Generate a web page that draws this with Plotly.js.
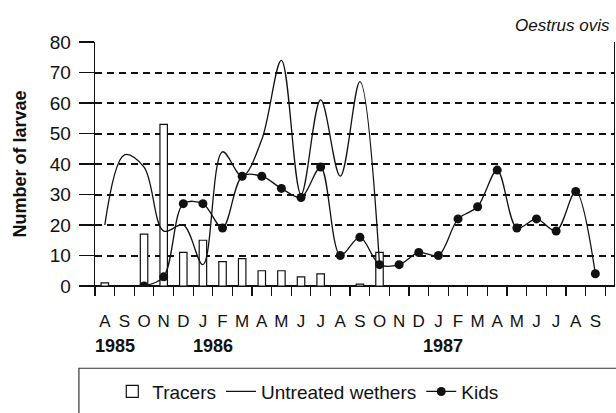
<!DOCTYPE html>
<html>
<head>
<meta charset="utf-8">
<script src="https://cdn.plot.ly/plotly-3.0.1.min.js"></script>
<style>html,body{margin:0;padding:0;background:#fff;}#chart{width:616px;height:413px;}</style>
</head>
<body>
<div id="chart"></div>
<script>
// Months Aug 1985 .. Sep 1987 (index 0..25)
const months = ["A","S","O","N","D","J","F","M","A","M","J","J","A","S","O","N","D","J","F","M","A","M","J","J","A","S"];
const monthIndex = months.map((m, i) => i);
// Month boundaries (tick marks between months)
const monthEdges = months.map((m, i) => i - 0.5).concat([months.length - 0.5]);

// Tracers (bars)
const tracers = [1, null, 17, 53, 11, 15, 8, 9, 5, 5, 3, 4, null, 0.6, 11, null, null, null, null, null, null, null, null, null, null, null];

// Untreated wethers (smooth line, no markers)
const untreated = [20, 43, 39, 18, 20, 7, 44, 36, 48, 74, 30, 61, 36, 67, 7, null, null, null, null, null, null, null, null, null, null, null];

// Kids (line with dots)
const kids = [null, null, 0, 3, 27, 27, 19, 36, 36, 32, 29, 39, 10, 16, 7, 7, 11, 10, 22, 26, 38, 19, 22, 18, 31, 4];

// Year labels
const yearLabels = ["1985", "1986", "1987"];
const yearPos = [0.5, 5.5, 17.25];

const FONT = "Liberation Sans, Arial, Helvetica, sans-serif";

const traces = [
  {
    type: "bar", name: "Tracers", x: monthIndex, y: tracers, width: 0.38,
    marker: {color: "#ffffff", line: {color: "#111", width: 1.2}},
    hoverinfo: "skip"
  },
  {
    type: "scatter", mode: "lines", name: "Untreated wethers", x: monthIndex, y: untreated,
    line: {color: "#111", width: 1.3, shape: "spline", smoothing: 1.0},
    connectgaps: false
  },
  {
    type: "scatter", mode: "lines+markers", name: "Kids", x: monthIndex, y: kids,
    xaxis: "x2",
    line: {color: "#111", width: 1.3, shape: "spline", smoothing: 0.9},
    marker: {color: "#111", size: 9}
  }
];

const annotations = yearLabels.map((t, i) => ({
  text: t, x: yearPos[i], xref: "x", y: -0.244, yref: "paper",
  showarrow: false, xanchor: "center", yanchor: "middle",
  font: {family: FONT, size: 18, color: "#111", weight: "bold"}
}));
annotations.push({
  text: "<i>Oestrus ovis</i>", x: 0.996, xref: "paper", y: 1.069, yref: "paper",
  showarrow: false, xanchor: "right", yanchor: "middle",
  font: {family: FONT, size: 17, color: "#111"}
});

const layout = {
  width: 616, height: 413,
  margin: {l: 95, r: 2, t: 42, b: 125},
  paper_bgcolor: "#fff", plot_bgcolor: "#fff",
  font: {family: FONT, color: "#111"},
  showlegend: true,
  legend: {
    orientation: "h", x: 0.41, xanchor: "center", y: -0.355, yanchor: "top",
    font: {family: FONT, size: 19, color: "#111"},
    bgcolor: "rgba(0,0,0,0)", itemwidth: 30, traceorder: "normal"
  },
  bargap: 0,
  xaxis: {
    range: [-0.5, 25.95], type: "linear",
    tickmode: "array", tickvals: monthEdges, showticklabels: false,
    ticks: "outside", ticklen: 9, tickwidth: 1.2, tickcolor: "#111",
    showgrid: false, zeroline: false, showline: true, linecolor: "#111", linewidth: 1.3
  },
  xaxis2: {
    overlaying: "x", anchor: "y", side: "bottom", matches: "x", type: "linear",
    tickmode: "array", tickvals: monthIndex, ticktext: months,
    ticks: "outside", ticklen: 9, tickcolor: "rgba(0,0,0,0)", ticklabelstandoff: 11,
    tickfont: {family: FONT, size: 17, color: "#111"},
    showgrid: false, zeroline: false, showline: false
  },
  yaxis: {
    range: [0, 80], tickvals: [0, 10, 20, 30, 40, 50, 60, 70, 80],
    ticks: "outside", ticklen: 15, tickwidth: 1.2, tickcolor: "#111",
    ticklabelstandoff: 4,
    tickfont: {family: FONT, size: 19, color: "#111"},
    showgrid: true, gridcolor: "#111", gridwidth: 2, griddash: "7px,5px",
    zeroline: true, zerolinecolor: "#111", zerolinewidth: 1.3,
    showline: true, linecolor: "#111", linewidth: 1.3, mirror: true,
    title: {text: "Number of larvae", font: {family: FONT, size: 18, color: "#111", weight: "bold"}, standoff: 18}
  },
  shapes: [
    {type: "rect", xref: "paper", yref: "paper", x0: -0.031, x1: 1.2, y0: -0.337, y1: -0.7,
     line: {color: "#333", width: 1.2}, fillcolor: "rgba(0,0,0,0)"}
  ],
  annotations: annotations
};

Plotly.newPlot("chart", traces, layout, {displayModeBar: false, staticPlot: true});
</script>
</body>
</html>
